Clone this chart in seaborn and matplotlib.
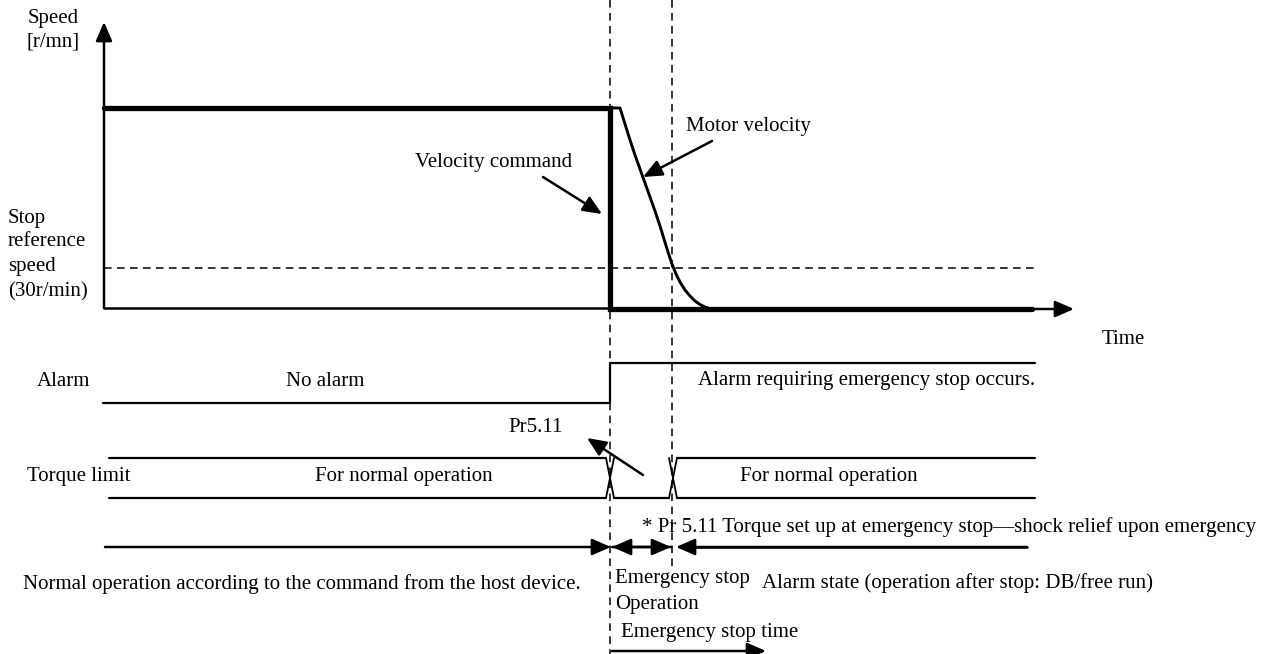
import matplotlib
matplotlib.use("Agg")
import matplotlib.pyplot as plt
import seaborn as sns

# diagram coordinates (x = time position, y = vertical position, screen units)
t_alarm = 610      # alarm occurs
t_stop = 672       # motor reaches stop reference speed

# speed chart
cmd_x = [104, t_alarm, t_alarm, 1032]
cmd_y = [108, 108, 309, 309]
motor_x = [t_alarm, 620, 625, 630, 635, 640, 645, 650, 655, 660, 664, 668,
           672, 676, 680, 685, 690, 695, 700, 705, 708]
motor_y = [108, 108, 124, 140, 155, 169, 183, 197, 211, 226, 239, 252,
           264, 274, 282, 290, 296, 301, 304.5, 307, 308]
base_y = 308
ref_y = 268        # stop reference speed 30 r/min

# alarm signal
alarm_x = [103, t_alarm, t_alarm, 1035]
alarm_y = [403, 403, 363, 363]

# torque limit signal
tq_hi, tq_lo = 458, 498

FS = 15.0
BLACK = "black"

sns.set_theme(style="white")
plt.rcParams["font.family"] = ["Liberation Serif", "DejaVu Serif"]

fig = plt.figure(figsize=(12.68, 6.54), dpi=100)
ax = fig.add_axes([0, 0, 1, 1])
ax.set_xlim(0, 1268)
ax.set_ylim(654, 0)
ax.axis("off")


def arrow(start, end, lw=1.8, hl=1.15, hw=0.5):
    ax.annotate("", xy=end, xytext=start,
                arrowprops=dict(arrowstyle=f"-|>,head_length={hl},head_width={hw}",
                                lw=lw, color=BLACK, shrinkA=0, shrinkB=0,
                                mutation_scale=10))


# dashed event lines
dash = (0, (5, 3.5))
ax.plot([t_alarm, t_alarm], [0, 654], color=BLACK, lw=1.1, ls=dash)
ax.plot([t_stop, t_stop], [0, 570], color=BLACK, lw=1.1, ls=dash)
ax.plot([104, 1035], [ref_y, ref_y], color=BLACK, lw=1.1, ls=dash)

# axes of the speed chart
ax.plot([104, t_alarm], [base_y, base_y], color=BLACK, lw=1.8)
arrow((104, base_y), (104, 22))
arrow((1030, 309), (1074, 309))

# velocity command and motor velocity
sns.lineplot(x=cmd_x, y=cmd_y, sort=False, estimator=None, color=BLACK,
             lw=3.8, ax=ax, solid_joinstyle="miter")
sns.lineplot(x=motor_x, y=motor_y, sort=False, estimator=None, color=BLACK,
             lw=2.1, ax=ax)

# alarm
ax.plot(alarm_x, alarm_y, color=BLACK, lw=1.6)

# torque limit with transitions
ax.plot([109, 606], [tq_hi, tq_hi], color=BLACK, lw=1.6)
ax.plot([109, 606], [tq_lo, tq_lo], color=BLACK, lw=1.6)
ax.plot([606, 614], [tq_hi, tq_lo], color=BLACK, lw=1.3)
ax.plot([606, 614], [tq_lo, tq_hi], color=BLACK, lw=1.3)
ax.plot([614, 669], [tq_lo, tq_lo], color=BLACK, lw=1.6)
ax.plot([669, 677], [tq_hi, tq_lo], color=BLACK, lw=1.3)
ax.plot([669, 677], [tq_lo, tq_hi], color=BLACK, lw=1.3)
ax.plot([677, 1035], [tq_hi, tq_hi], color=BLACK, lw=1.6)
ax.plot([677, 1035], [tq_lo, tq_lo], color=BLACK, lw=1.6)

# state arrows
row_y = 547
arrow((105, row_y), (t_alarm + 1, row_y))
arrow((t_stop - 1, row_y), (t_alarm + 2, row_y))
arrow((t_alarm + 2, row_y), (t_stop - 1, row_y))
ax.plot([690, 1027], [row_y, row_y], color=BLACK, lw=1.8)
arrow((1027, row_y), (t_stop + 4, row_y))
arrow((t_alarm + 2, 651), (766, 651))

# callout arrows
arrow((543, 177), (602, 214))
arrow((712, 141), (643, 177))
arrow((643, 475), (587, 438))

# texts
def label(x, y, s):
    ax.text(x, y, s, fontsize=FS, ha="left", va="center", color=BLACK)


label(28, 19, "Speed")
label(27, 42, "[r/mn]")
label(8, 218, "Stop")
label(8, 242, "reference")
label(8, 267, "speed")
label(8, 292, "(30r/min)")
label(415, 163, "Velocity command")
label(686, 127, "Motor velocity")
label(1102, 339, "Time")
label(37, 381, "Alarm")
label(286, 381, "No alarm")
label(698, 381, "Alarm requiring emergency stop occurs.")
label(508, 427, "Pr5.11")
label(27, 476, "Torque limit")
label(315, 476, "For normal operation")
label(740, 476, "For normal operation")
label(642, 527, "* Pr 5.11 Torque set up at emergency stop\u2014shock relief upon emergency")
label(23, 584, "Normal operation according to the command from the host device.")
label(615, 578, "Emergency stop")
label(615, 604, "Operation")
label(762, 583, "Alarm state (operation after stop: DB/free run)")
label(621, 633, "Emergency stop time")

fig.savefig("out.png", dpi=100, facecolor="white")
